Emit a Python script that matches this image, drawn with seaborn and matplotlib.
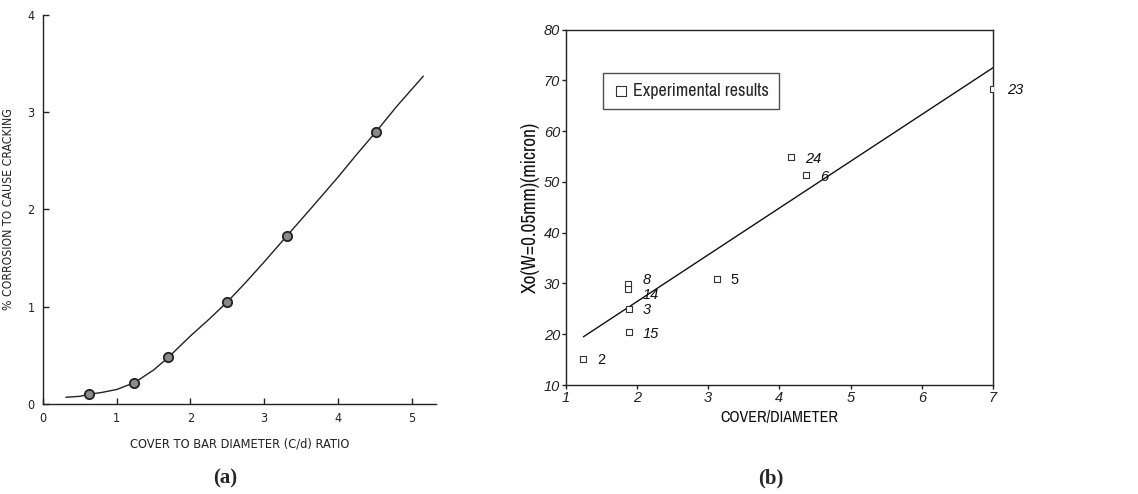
import matplotlib
matplotlib.use("Agg")
import matplotlib.pyplot as plt
import seaborn as sns

sns.set_style("ticks")
plt.rcParams["font.family"] = ["Liberation Sans", "DejaVu Sans"]

# (a) corrosion needed to crack vs cover/bar-diameter ratio
cd_points = [0.62, 1.24, 1.70, 2.50, 3.31, 4.52]
corrosion_points = [0.10, 0.22, 0.48, 1.05, 1.73, 2.80]
cd_curve = [0.31, 0.5, 0.62, 0.8, 1.0, 1.24, 1.5, 1.70, 2.0, 2.25, 2.50, 2.75, 3.0, 3.31, 3.6, 4.0, 4.25, 4.52, 4.8, 5.16]
corrosion_curve = [0.07, 0.08, 0.10, 0.12, 0.15, 0.22, 0.35, 0.48, 0.70, 0.87, 1.05, 1.25, 1.46, 1.73, 1.98, 2.33, 2.56, 2.80, 3.06, 3.37]

# (b) Xo at w = 0.05 mm vs cover/diameter
ratio = [1.25, 1.88, 1.88, 1.89, 1.89, 3.12, 4.17, 4.38, 7.0]
xo = [15.2, 29.9, 28.9, 25.0, 20.4, 30.9, 54.9, 51.3, 68.4]
specimen = ["2", "8", "14", "3", "15", "5", "24", "6", "23"]
upright = {"2", "5"}
fit_ratio = [1.25, 7.0]
fit_xo = [19.5, 72.5]

COND = dict(family="DejaVu Sans", stretch="condensed")
NARROW = dict(family=["Archivo Narrow", "Liberation Sans"])

fig = plt.figure(figsize=(11.38, 4.94), dpi=100)
axa = fig.add_axes([0.0378, 0.182, 0.3452, 0.788])
axb = fig.add_axes([0.497, 0.2206, 0.3756, 0.7194])

# ---- panel (a)
sns.lineplot(x=cd_curve, y=corrosion_curve, ax=axa, color="#222222", lw=1.0, sort=False)
sns.scatterplot(x=cd_points, y=corrosion_points, ax=axa, s=45, color="#8a8a8a",
                edgecolor="#222222", linewidth=1.3, zorder=3)
axa.set_xlim(0, 5.33)
axa.set_ylim(0, 4)
axa.set_xticks([0, 1, 2, 3, 4, 5])
axa.set_yticks([0, 1, 2, 3, 4])
for s in ("top", "right"):
    axa.spines[s].set_visible(False)
for s in ("left", "bottom"):
    axa.spines[s].set_linewidth(1.0)
    axa.spines[s].set_color("#222222")
axa.tick_params(direction="in", length=4, width=1.0, colors="#222222", pad=6)
for lab in axa.get_xticklabels() + axa.get_yticklabels():
    lab.set_fontsize(9)
    lab.set_family(COND["family"])
    lab.set_stretch(COND["stretch"])
axa.set_xlabel("COVER TO BAR DIAMETER (C/d) RATIO", fontsize=9.2, color="#222222", labelpad=9, **COND)
axa.set_ylabel("% CORROSION TO CAUSE CRACKING", fontsize=8.8, color="#222222", labelpad=9, **COND)

# ---- panel (b)
sns.lineplot(x=fit_ratio, y=fit_xo, ax=axb, color="#111111", lw=1.0)
sns.scatterplot(x=ratio, y=xo, ax=axb, marker="s", s=22, facecolor="white",
                edgecolor="#333333", linewidth=0.8, zorder=3,
                label="Experimental results")
for xv, yv, name in zip(ratio, xo, specimen):
    dy = {"8": 0, "14": -7}.get(name, -4)
    axb.annotate(name, (xv, yv), xytext=(10, dy), textcoords="offset points",
                 fontsize=10.5, style="normal" if name in upright else "italic",
                 color="#111111")
axb.set_xlim(1, 7)
axb.set_ylim(10, 80)
axb.set_xticks([1, 2, 3, 4, 5, 6, 7])
axb.set_yticks([10, 20, 30, 40, 50, 60, 70, 80])
for s in axb.spines.values():
    s.set_linewidth(1.0)
    s.set_color("#222222")
axb.tick_params(direction="out", length=3, width=1.0, labelsize=10.5, colors="#222222", pad=1)
for lab in axb.get_xticklabels() + axb.get_yticklabels():
    lab.set_style("italic")
axb.set_xlabel("COVER/DIAMETER", fontsize=11.5, color="#111111", labelpad=4, **NARROW)
axb.set_ylabel("Xo(W=0.05mm)(micron)", fontsize=14, color="#111111", labelpad=3, **NARROW)
leg = axb.legend(loc="upper left", bbox_to_anchor=(0.087, 0.878), borderaxespad=0,
                 frameon=True, fancybox=False, prop=dict(size=13, **NARROW),
                 handletextpad=0.25, borderpad=0.55, markerscale=1.6, handlelength=0.9)
leg.get_frame().set_edgecolor("#222222")
leg.get_frame().set_linewidth(1.0)

# panel captions
fig.text(0.198, 0.022, "(a)", fontsize=15, fontweight="bold", family="Liberation Serif", ha="center")
fig.text(0.677, 0.022, "(b)", fontsize=15, fontweight="bold", family="Liberation Serif", ha="center")

fig.savefig("out.png", dpi=100)
